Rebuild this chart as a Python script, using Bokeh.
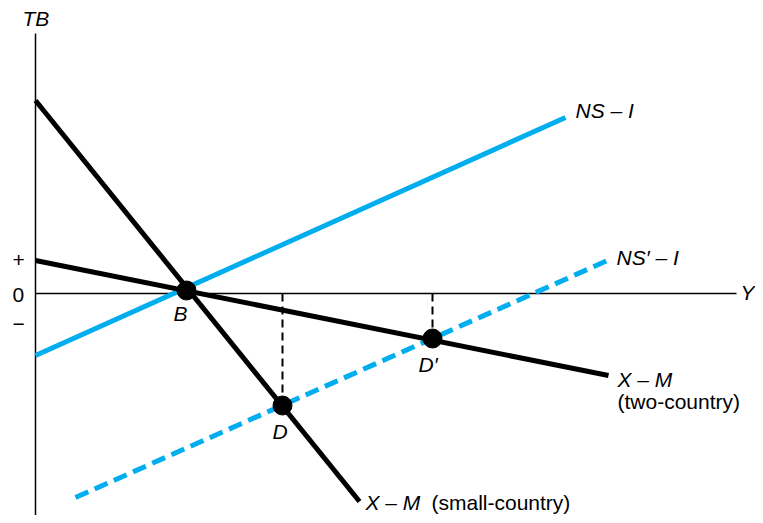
from bokeh.plotting import figure
from bokeh.models import Range1d
from bokeh.embed import file_html
from bokeh.resources import INLINE
from bokeh.core.properties import value

# ---- data (conceptual diagram units: Y horizontal, TB vertical) ----
axis_y_x = [0, 0]
axis_y_y = [260, -228]
axis_x_x = [0, 701]
axis_x_y = [0, 0]

ns_i_x = [0, 530]
ns_i_y = [-62, 176]

ns2_i_x = [40, 572]
ns2_i_y = [-204, 33]

xm_small_x = [0, 324]
xm_small_y = [193, -208]

xm_two_x = [0, 573]
xm_two_y = [33, -82]

pt_names = ["B", "D", "D′"]
pt_x = [151, 247, 397]
pt_y = [3, -112, -45]

drop_x = [247, 397]
drop_top = [0, 0]
drop_bottom = [-112, -45]

BLUE = "#00aeef"
FONT = value("Liberation Sans")

p = figure(width=755, height=515, output_backend="svg", toolbar_location=None,
           x_range=Range1d(-35, 720), y_range=Range1d(-222, 293),
           min_border=0, min_border_left=0, min_border_right=0,
           min_border_top=0, min_border_bottom=0)
p.axis.visible = False
p.grid.visible = False
p.outline_line_color = None
p.background_fill_color = "white"
p.border_fill_color = "white"

# axes
p.line(axis_y_x, axis_y_y, line_color="black", line_width=1.5)
p.line(axis_x_x, axis_x_y, line_color="black", line_width=1.5)

# dashed drop lines
for xx, yt, yb in zip(drop_x, drop_top, drop_bottom):
    p.line([xx, xx], [yt, yb], line_color="black", line_width=2, line_dash="8 5")

# curves
p.line(ns_i_x, ns_i_y, line_color=BLUE, line_width=5)
p.line(ns2_i_x, ns2_i_y, line_color=BLUE, line_width=5, line_dash="14 7")
p.line(xm_small_x, xm_small_y, line_color="black", line_width=5)
p.line(xm_two_x, xm_two_y, line_color="black", line_width=5)

# points
p.scatter(pt_x, pt_y, size=19, color="black")

DY = 8

def label(x, y, txt, italic=True, align="left", baseline="alphabetic"):
    p.text([x], [y + DY], text=[txt], text_font=FONT, text_font_size="21px",
           text_font_style="italic" if italic else "normal",
           text_align=align, text_baseline=baseline, text_color="black")

label(-13, 267, "TB")
label(705, -7, "Y")
label(-23, 26, "+", italic=False)
label(-23, -9, "0", italic=False)
label(-23, -38, "−", italic=False)
label(138, -28, pt_names[0])
label(237, -146, pt_names[1])
label(383, -79, pt_names[2])
label(540, 175, "NS – I")
label(581, 28, "NS′ – I")
label(582, -94, "X – M")
label(582, -116, "(two-country)", italic=False)
label(330, -217, "X – M")
label(396, -217, "(small-country)", italic=False)

open("out.html", "w").write(file_html(p, INLINE))
